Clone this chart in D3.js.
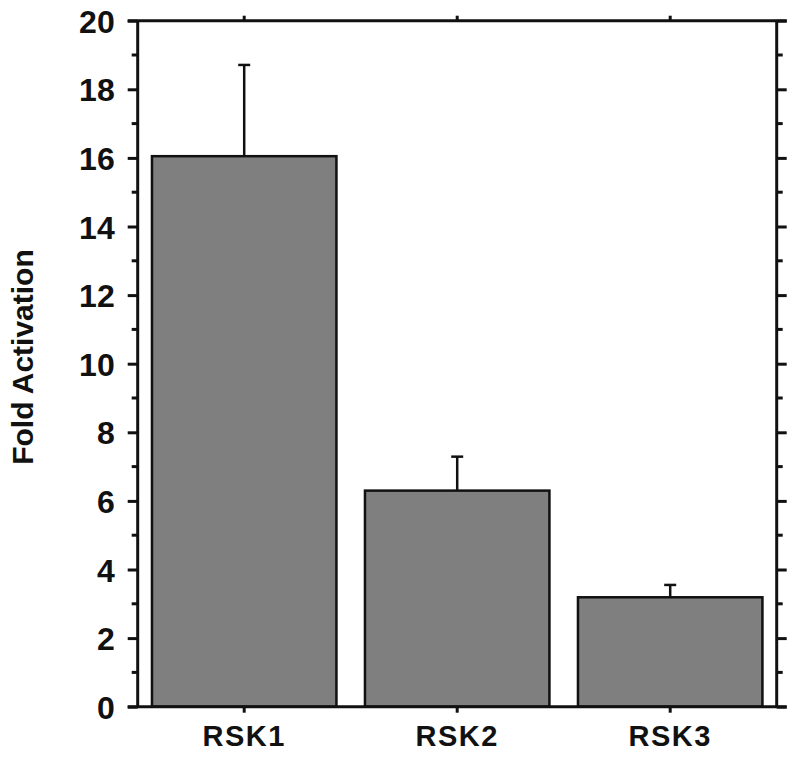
<!DOCTYPE html>
<html>
<head>
<meta charset="utf-8">
<script src="https://cdn.jsdelivr.net/npm/d3@7"></script>
<style>
  html, body { margin: 0; padding: 0; background: #fff; }
  svg { display: block; }
  text { font-family: "Liberation Sans", Arial, Helvetica, sans-serif; font-weight: bold; fill: #111; }
</style>
</head>
<body>
<svg id="chart" width="800" height="760"></svg>
<script>
const categories = ["RSK1", "RSK2", "RSK3"];
const values = [16.05, 6.30, 3.19];
const errors = [2.66, 0.99, 0.36];
const majorTicks = [0, 2, 4, 6, 8, 10, 12, 14, 16, 18, 20];
const minorTicks = [1, 3, 5, 7, 9, 11, 13, 15, 17, 19];
const yLabel = "Fold Activation";

const svg = d3.select("#chart");
const mLeft = 137.7, mRight = 776.7, mTop = 20.7, mBottom = 706.7;

const x = d3.scaleBand().domain(categories).range([mLeft, mRight]).paddingInner(0.134).paddingOuter(0.067);
const y = d3.scaleLinear().domain([0, 20]).range([mBottom, mTop]);

const ink = "#111";

// bars
svg.append("g").selectAll("rect").data(categories).join("rect")
  .attr("x", d => x(d))
  .attr("y", (d, i) => y(values[i]))
  .attr("width", x.bandwidth())
  .attr("height", (d, i) => y(0) - y(values[i]))
  .attr("fill", "#7f7f7f")
  .attr("stroke", ink)
  .attr("stroke-width", 2.5);

// error bars
const eg = svg.append("g").attr("stroke", ink).attr("stroke-width", 2.5);
categories.forEach((c, i) => {
  const cx = x(c) + x.bandwidth() / 2;
  eg.append("line").attr("x1", cx).attr("x2", cx).attr("y1", y(values[i])).attr("y2", y(values[i] + errors[i]));
  eg.append("line").attr("x1", cx - 6).attr("x2", cx + 6).attr("y1", y(values[i] + errors[i])).attr("y2", y(values[i] + errors[i]));
});

// left axis
const yl = svg.append("g").attr("transform", `translate(${mLeft},0)`)
  .call(d3.axisLeft(y).tickValues(majorTicks).tickSize(10).tickPadding(13).tickFormat(d3.format("d")));
yl.selectAll("text").style("font-size", "32px").attr("dy", "0.36em");
yl.append("g").attr("class", "minor").selectAll("line").data(minorTicks).join("line")
  .attr("x1", -6).attr("x2", 0).attr("y1", d => y(d)).attr("y2", d => y(d));

// right axis
const yr = svg.append("g").attr("transform", `translate(${mRight},0)`)
  .call(d3.axisRight(y).tickValues(majorTicks).tickSize(10).tickFormat(""));
yr.append("g").attr("class", "minor").selectAll("line").data(minorTicks).join("line")
  .attr("x1", 0).attr("x2", 6).attr("y1", d => y(d)).attr("y2", d => y(d));

// bottom axis
const xb = svg.append("g").attr("transform", `translate(0,${mBottom})`)
  .call(d3.axisBottom(x).tickSize(6).tickPadding(13));
xb.selectAll("text").style("font-size", "29px").style("letter-spacing", "1.5px");

// top axis
svg.append("g").attr("transform", `translate(0,${mTop})`)
  .call(d3.axisTop(x).tickSize(5).tickFormat(""));

// style axes
svg.selectAll(".domain").remove();
svg.selectAll(".tick line, .minor line").attr("stroke", ink).attr("stroke-width", 3);

// frame lines
const fg = svg.append("g").attr("stroke", ink).attr("stroke-width", 3);
fg.append("line").attr("x1", mLeft - 10).attr("x2", mRight + 10).attr("y1", mTop).attr("y2", mTop);
fg.append("line").attr("x1", mLeft - 10).attr("x2", mRight + 10).attr("y1", mBottom).attr("y2", mBottom);
fg.append("line").attr("x1", mLeft).attr("x2", mLeft).attr("y1", mTop).attr("y2", mBottom);
fg.append("line").attr("x1", mRight).attr("x2", mRight).attr("y1", mTop).attr("y2", mBottom);

// y label
svg.append("text")
  .attr("transform", `translate(33,357) rotate(-90)`)
  .attr("text-anchor", "middle")
  .style("font-size", "30px")
  .text(yLabel);
</script>
</body>
</html>
